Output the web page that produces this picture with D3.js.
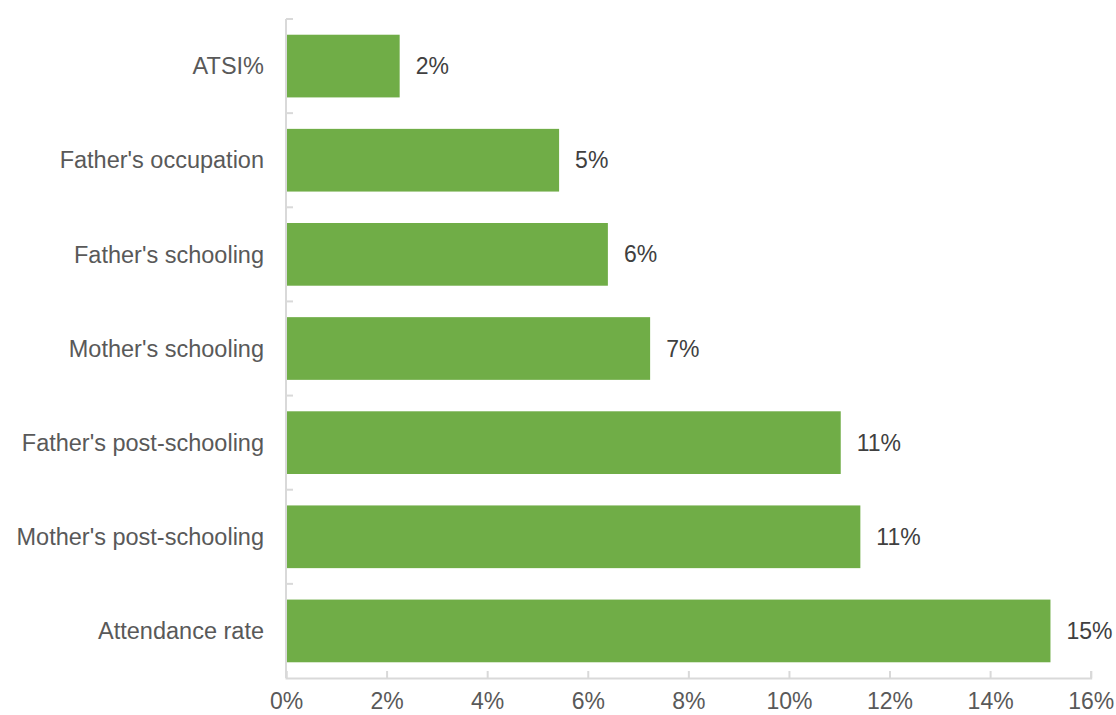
<!DOCTYPE html>
<html>
<head>
<meta charset="utf-8">
<script src="https://cdn.jsdelivr.net/npm/d3@7"></script>
<style>
  html, body { margin: 0; padding: 0; background: #fff; }
  svg { display: block; }
  text { font-family: "Liberation Sans", Arial, sans-serif; }
</style>
</head>
<body>
<svg id="chart" width="1116" height="715"></svg>
<script>
// Factor categories, top to bottom
const categories = [
  "ATSI%",
  "Father's occupation",
  "Father's schooling",
  "Mother's schooling",
  "Father's post-schooling",
  "Mother's post-schooling",
  "Attendance rate"
];

// Share explained by each factor
const values = [0.0226, 0.0543, 0.0640, 0.0724, 0.1103, 0.1142, 0.1520];

// Horizontal axis ticks
const xTicks = [0, 0.02, 0.04, 0.06, 0.08, 0.10, 0.12, 0.14, 0.16];

const width = 1116, height = 715;
const margin = { top: 19, right: 25, bottom: 37, left: 286 };
const fontSize = 23;

const svg = d3.select("#chart");

const x = d3.scaleLinear()
  .domain([0, 0.16])
  .range([margin.left, 1090.7]);

const y = d3.scaleBand()
  .domain(categories)
  .range([margin.top, height - margin.bottom])
  .paddingInner(0.334)
  .paddingOuter(0.167);

const axisColor = "#d9d9d9";
const pct = d3.format(".0%");

// Bars
svg.append("g")
  .selectAll("rect")
  .data(values)
  .join("rect")
  .attr("x", x(0))
  .attr("y", (d, i) => y(categories[i]))
  .attr("width", d => x(d) - x(0))
  .attr("height", y.bandwidth())
  .attr("fill", "#70ad47");

// Value labels
svg.append("g")
  .selectAll("text")
  .data(values)
  .join("text")
  .attr("x", d => x(d) + 16)
  .attr("y", (d, i) => y(categories[i]) + y.bandwidth() / 2)
  .attr("dy", "0.35em")
  .attr("font-size", fontSize)
  .attr("fill", "#404040")
  .text(d => pct(d));

// Bottom axis
const xAxis = svg.append("g")
  .attr("transform", `translate(0,${height - margin.bottom})`)
  .call(d3.axisBottom(x).tickValues(xTicks).tickFormat(pct).tickSizeInner(-7).tickSizeOuter(-7).tickPadding(15));
xAxis.select(".domain").attr("stroke", axisColor).attr("stroke-width", 2);
xAxis.selectAll(".tick line").attr("stroke", axisColor).attr("stroke-width", 2);
xAxis.selectAll(".tick text")
  .attr("font-size", fontSize)
  .attr("fill", "#595959")
  .attr("font-family", "Liberation Sans, Arial, sans-serif");

// Left axis with ticks at band boundaries
const yAxisG = svg.append("g").attr("transform", `translate(${margin.left},0)`);
yAxisG.append("line")
  .attr("x1", 0).attr("x2", 0)
  .attr("y1", margin.top).attr("y2", height - margin.bottom)
  .attr("stroke", axisColor).attr("stroke-width", 2);
const step = y.step();
const boundaries = d3.range(categories.length).map(i => margin.top + i * step);
yAxisG.selectAll("line.btick")
  .data(boundaries)
  .join("line")
  .attr("class", "btick")
  .attr("x1", 0).attr("x2", 7)
  .attr("y1", d => d).attr("y2", d => d)
  .attr("stroke", axisColor).attr("stroke-width", 2);

// Category labels
svg.append("g")
  .selectAll("text")
  .data(categories)
  .join("text")
  .attr("x", 264)
  .attr("y", d => y(d) + y.bandwidth() / 2)
  .attr("dy", "0.35em")
  .attr("text-anchor", "end")
  .attr("font-size", 23.5)
  .attr("fill", "#595959")
  .text(d => d);
</script>
</body>
</html>
